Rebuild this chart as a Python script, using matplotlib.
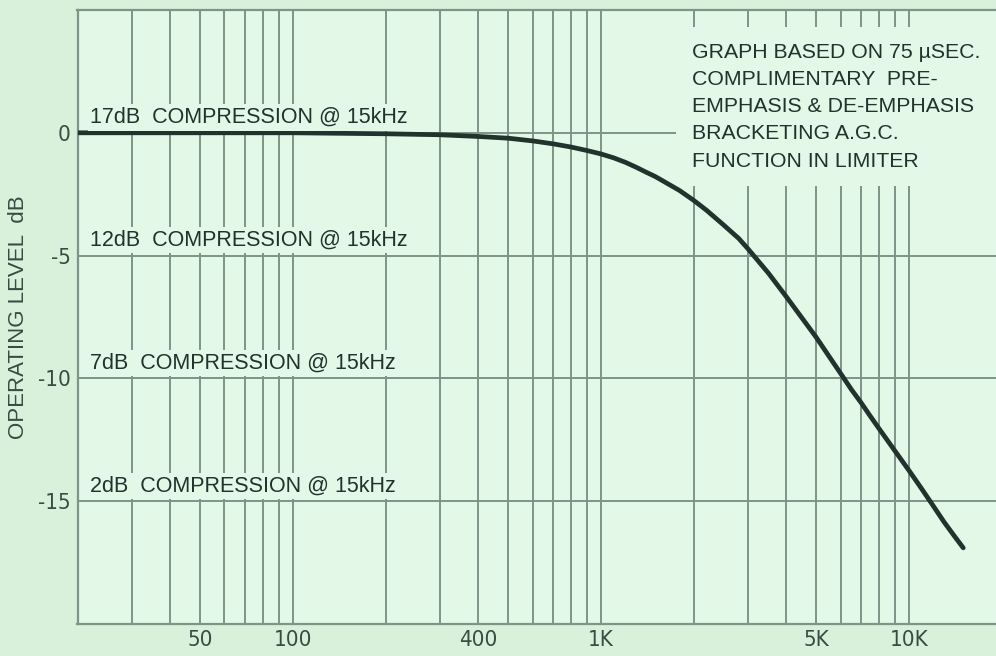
import matplotlib
matplotlib.use("Agg")
import matplotlib.pyplot as plt
from matplotlib import font_manager

# ---- data ----
freq_hz = [20, 50, 100, 200, 300, 400, 500, 600, 700, 800, 900, 1000,
           1100, 1200, 1300, 1400, 1500, 1600, 1800, 2000, 2200, 2500,
           2800, 3000, 3500, 4000, 4500, 5000, 5500, 6000, 6500, 7000,
           7500, 8000, 9000, 10000, 11000, 12000, 13000, 14000, 15000]
level_db = [0.0, 0.0, 0.0, -0.04, -0.08, -0.15, -0.22, -0.33, -0.45, -0.58,
            -0.72, -0.86, -1.02, -1.2, -1.4, -1.6, -1.78, -1.98, -2.35,
            -2.75, -3.15, -3.75, -4.3, -4.72, -5.72, -6.68, -7.55, -8.33,
            -9.1, -9.8, -10.45, -11.0, -11.55, -12.05, -12.95, -13.75,
            -14.5, -15.2, -15.85, -16.4, -16.9]

grid_freqs = [30, 40, 50, 60, 70, 80, 90, 100, 200, 300, 400, 500, 600, 700,
              800, 900, 1000, 2000, 3000, 4000, 5000, 6000, 7000, 8000, 9000,
              10000]
x_labels = {50: "50", 100: "100", 400: "400", 1000: "1K", 5000: "5K",
            10000: "10K"}
y_ticks = [0, -5, -10, -15]
y_tick_labels = ["0", "-5", "-10", "-15"]

comp_levels = [0, -5, -10, -15]
comp_labels = ["17dB  COMPRESSION @ 15kHz", "12dB  COMPRESSION @ 15kHz",
               "7dB  COMPRESSION @ 15kHz", "2dB  COMPRESSION @ 15kHz"]

note_text = ("GRAPH BASED ON 75 \u00b5SEC.\n"
             "COMPLIMENTARY  PRE-\n"
             "EMPHASIS & DE-EMPHASIS\n"
             "BRACKETING A.G.C.\n"
             "FUNCTION IN LIMITER")

# ---- style ----
FIG_BG = "#d9f1db"
AX_BG = "#e3f8e7"
GRID_C = "#7d9489"
INK = "#22322d"
LABEL_C = "#3a4a44"
SANS = ["Liberation Sans", "DejaVu Sans"]


def pick_narrow():
    for name, stretch in [("Liberation Sans Narrow", "normal"),
                          ("DejaVu Sans Condensed", "normal"),
                          ("DejaVu Sans", "condensed")]:
        try:
            fp = font_manager.FontProperties(family=name, stretch=stretch)
            path = font_manager.findfont(fp, fallback_to_default=False)
            if stretch == "condensed" and "ondensed" not in path:
                continue
            return font_manager.FontProperties(fname=path)
        except Exception:
            continue
    return font_manager.FontProperties(family="Liberation Sans")


NARROW_FP = pick_narrow()

W, H = 996, 656
fig = plt.figure(figsize=(W / 100, H / 100), dpi=100, facecolor=FIG_BG)
left_px, right_px, top_px, bot_px = 77.5, 996, 10, 624
ax = fig.add_axes([left_px / W, (H - bot_px) / H,
                   (right_px - left_px) / W, (bot_px - top_px) / H])
ax.set_facecolor(AX_BG)

ax.set_xscale("log")
ax.set_xlim(20, 19160)
ax.set_ylim(-20, 5)

ax.set_xticks(grid_freqs)
ax.set_xticklabels([x_labels.get(f, "") for f in grid_freqs])
ax.xaxis.set_minor_locator(matplotlib.ticker.NullLocator())
ax.set_yticks(y_ticks)
ax.set_yticklabels(y_tick_labels)

ax.tick_params(axis="both", length=0, colors=LABEL_C)
ax.tick_params(axis="x", pad=4.5)
ax.tick_params(axis="y", pad=5)
for lab in ax.get_xticklabels() + ax.get_yticklabels():
    lab.set_fontproperties(NARROW_FP)
    lab.set_fontsize(16)
    lab.set_color(LABEL_C)

ax.grid(True, color=GRID_C, linewidth=1.4, zorder=1)
ax.set_axisbelow(True)

for side in ["left", "bottom", "top"]:
    ax.spines[side].set_color(GRID_C)
    ax.spines[side].set_linewidth(1.6)
ax.spines["right"].set_visible(False)

ax.plot(freq_hz, level_db, color=INK, linewidth=3.4, solid_capstyle="round",
        solid_joinstyle="round", zorder=3)

for lvl, txt in zip(comp_levels, comp_labels):
    ax.annotate(txt, xy=(22, lvl), xytext=(0, 7), textcoords="offset points",
                ha="left", va="baseline", fontsize=15.5, family=SANS,
                color=INK, zorder=4,
                bbox=dict(boxstyle="square,pad=0.12", facecolor=AX_BG,
                          edgecolor="none"))

ax.text(0.669, 0.946, note_text, transform=ax.transAxes, ha="left", va="top",
        fontsize=15.3, family=SANS, color=INK, linespacing=1.54, zorder=4,
        bbox=dict(boxstyle="square,pad=0.75", facecolor=AX_BG,
                  edgecolor="none"))

ax.set_ylabel("OPERATING LEVEL  dB", fontsize=16, family=SANS, color=LABEL_C,
              labelpad=6)

fig.savefig("out.png", dpi=100, facecolor=FIG_BG)
